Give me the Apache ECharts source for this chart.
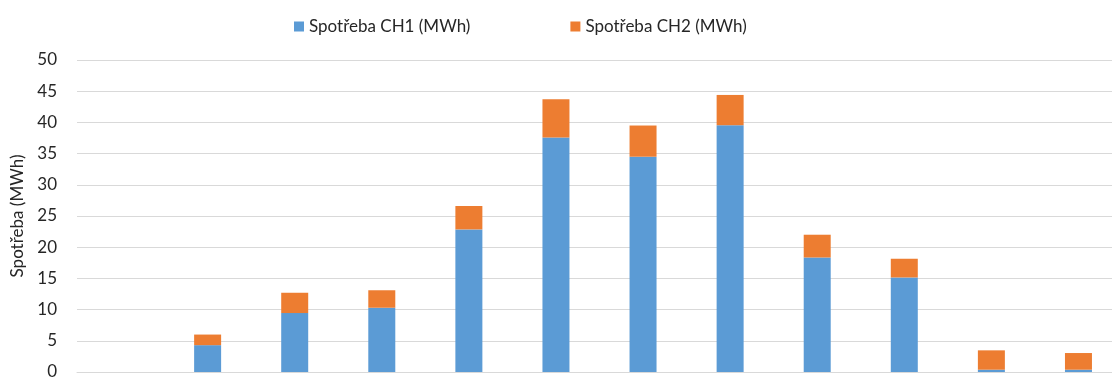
<!DOCTYPE html>
<html>
<head>
<meta charset="utf-8">
<script src="https://cdn.jsdelivr.net/npm/echarts@6/dist/echarts.min.js"></script>
<style>
  html, body { margin: 0; padding: 0; background: #fff; }
  #chart { width: 1112px; height: 379px; }
</style>
</head>
<body>
<div id="chart"></div>
<script>
// Monthly consumption per channel (MWh)
const months = ['1', '2', '3', '4', '5', '6', '7', '8', '9', '10', '11', '12'];
const ch1 = [null, 4.3, 9.45, 10.3, 22.85, 37.6, 34.5, 39.55, 18.35, 15.15, 0.37, 0.37];
const ch2 = [null, 1.7, 3.25, 2.8, 3.75, 6.1, 5.0, 4.85, 3.65, 3.0, 3.1, 2.67];
const yTicks = { min: 0, max: 50, interval: 5 };

const FONT = 'Lato, "Open Sans", sans-serif';
const TEXT = '#262626';

const chart = echarts.init(document.getElementById('chart'));
chart.setOption({
  animation: false,
  textStyle: { fontFamily: FONT },
  legend: {
    top: 13,
    left: 289,
    icon: 'rect',
    itemWidth: 10,
    itemHeight: 10,
    itemGap: 100,
    textStyle: { fontSize: 17, color: TEXT, fontFamily: FONT }
  },
  // plot area runs a little past the right edge of the canvas
  grid: {
    left: 77, top: 60, width: 1045, bottom: 7,
    containLabel: false,
    outerBoundsMode: 'none'
  },
  xAxis: {
    type: 'category',
    data: months,
    axisLine: { lineStyle: { color: '#d9d9d9', width: 1 } },
    axisTick: { show: false },
    axisLabel: { show: false }
  },
  yAxis: {
    type: 'value',
    min: yTicks.min,
    max: yTicks.max,
    interval: yTicks.interval,
    name: 'Spotřeba (MWh)',
    nameLocation: 'middle',
    nameGap: 49,
    nameTextStyle: { fontSize: 17, color: TEXT, fontFamily: FONT },
    axisLine: { show: false },
    axisTick: { show: false },
    axisLabel: { fontSize: 17, color: TEXT, margin: 20, fontFamily: FONT },
    splitLine: { lineStyle: { color: '#d9d9d9', width: 1 } }
  },
  series: [
    {
      name: 'Spotřeba CH1 (MWh)',
      type: 'bar',
      stack: 'total',
      data: ch1,
      barWidth: 27,
      itemStyle: { color: '#5B9BD5' }
    },
    {
      name: 'Spotřeba CH2 (MWh)',
      type: 'bar',
      stack: 'total',
      data: ch2,
      barWidth: 27,
      itemStyle: { color: '#ED7D31' }
    }
  ]
});
</script>
</body>
</html>
